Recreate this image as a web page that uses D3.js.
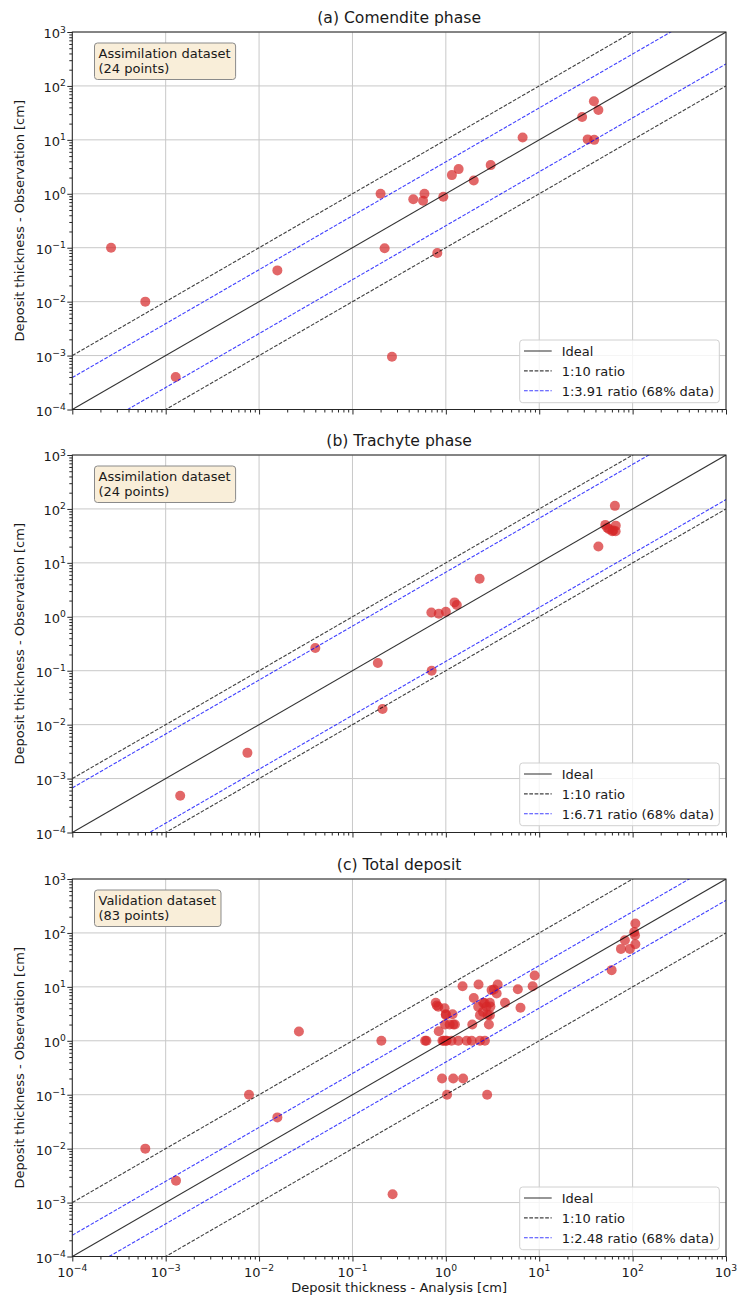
<!DOCTYPE html>
<html>
<head>
<meta charset="utf-8">
<script src="https://cdn.jsdelivr.net/npm/d3@7/dist/d3.min.js"></script>
<style>
  body { margin: 0; background: #fff; }
  svg text { font-family: "DejaVu Sans", sans-serif; fill: #1a1a1a; }
</style>
</head>
<body>
<div id="chart"></div>
<script>
// --- Data (analysis x, observation y, in cm) ---
const aX = [2.6e-4, 6.05e-4, 1.28e-3, 0.0157, 0.221, 0.81, 0.265, 38.5, 43, 28.8, 33, 38.8, 6.64, 3.02, 1.37, 1.16, 1.99, 0.2, 0.59, 0.448, 0.57, 0.94];
const aY = [0.1, 0.01, 4.0e-4, 0.038, 0.098, 0.08, 9.5e-4, 51.8, 35.7, 26.5, 10.2, 10, 11.1, 3.4, 2.87, 2.22, 1.77, 1.0, 1.0, 0.79, 0.74, 0.88];

const bX = [64.6, 51, 53.5, 66, 60.5, 65.8, 43, 2.3, 1.24, 1.31, 0.70, 0.84, 1.0, 0.04, 0.0075, 1.43e-3, 0.187, 0.705, 0.21, 56, 62];
const bY = [114, 50.6, 45, 49, 38.6, 38.6, 20.1, 5.06, 1.85, 1.65, 1.2, 1.14, 1.24, 0.263, 0.003, 4.8e-4, 0.139, 0.1, 0.0195, 42, 40];

const cX = [107, 104, 106, 82.6, 75, 93.5, 107, 59.6, 8.93, 8.5, 5.9, 6.3, 3.59, 3.27, 3.09, 3.5, 4.3, 2.24, 1.51, 1.99,
            2.51, 2.96, 2.22, 2.73, 2.32, 2.96, 2.5, 1.92, 2.89, 0.78, 0.83, 0.97, 1.0, 1.18, 0.98, 1.1, 1.25, 0.84, 0.204, 0.6,
            0.62, 0.92, 1.02, 1.15, 1.36, 1.67, 1.89, 2.32, 2.62, 0.91, 1.2, 1.53, 1.03, 2.77, 0.269, 7.8e-3, 0.0157, 6.05e-4, 1.29e-3, 0.0267,
            1.0, 0.95, 1.2, 2.8, 3.0, 2.6, 1.0, 0.8];
const cY = [149, 104, 90.6, 73, 50.6, 50.6, 61.6, 20.4, 16.3, 10.3, 9.06, 4.1, 11.1, 8.95, 8.7, 7.55, 5.06, 11.1, 10.3, 6.2,
            5.06, 5.06, 4.27, 4.27, 2.99, 2.99, 3.44, 2.01, 2.01, 5.06, 4.27, 4.0, 3.1, 3.1, 2.0, 2.0, 2.0, 1.5, 1.0, 1.0,
            1.0, 1.0, 1.0, 1.0, 1.0, 1.0, 1.0, 1.0, 1.0, 0.2, 0.2, 0.2, 0.1, 0.1, 1.43e-3, 0.1, 0.038, 0.01, 2.55e-3, 1.49,
            1.0, 1.0, 2.0, 3.0, 4.3, 5.0, 3.0, 4.5];

const titles = ["(a) Comendite phase", "(b) Trachyte phase", "(c) Total deposit"];
const boxTexts = [["Assimilation dataset", "(24 points)"], ["Assimilation dataset", "(24 points)"], ["Validation dataset", "(83 points)"]];
const ratios = [3.91, 6.71, 2.48];
const exponents = [-4, -3, -2, -1, 0, 1, 2, 3];

const panels = [
    { xs: aX, ys: aY },
    { xs: bX, ys: bY },
    { xs: cX, ys: cY }
];

// --- Layout ---
const W = 738, H = 1299;
const left = 72.3, right = 726, plotH = 377.5;
const tops = [32, 455, 879];

const svg = d3.select("#chart").append("svg").attr("width", W).attr("height", H);

const x = d3.scaleLog().domain([1e-4, 1e3]).range([left, right]);
const majors = exponents.map(e => Math.pow(10, e));
const minors = [];
exponents.slice(0, -1).forEach(e => { for (let k = 2; k <= 9; k++) minors.push(k * Math.pow(10, e)); });

function supLabel(sel, e) {
    sel.append("tspan").text("10");
    sel.append("tspan").attr("dy", -5.5).attr("font-size", 9.2).text(e < 0 ? "\u2212" + (-e) : e);
}

panels.forEach((p, i) => {
    const top = tops[i], bottom = top + plotH;
    const y = d3.scaleLog().domain([1e-4, 1e3]).range([bottom, top]);
    const g = svg.append("g");

    g.append("clipPath").attr("id", "clip" + i)
        .append("rect").attr("x", left).attr("y", top).attr("width", right - left).attr("height", plotH);

    // grid
    g.append("g").selectAll("line").data(majors).join("line")
        .attr("x1", d => x(d)).attr("x2", d => x(d)).attr("y1", top).attr("y2", bottom)
        .attr("stroke", "#c8c8c8").attr("stroke-width", 1);
    g.append("g").selectAll("line").data(majors).join("line")
        .attr("x1", left).attr("x2", right).attr("y1", d => y(d)).attr("y2", d => y(d))
        .attr("stroke", "#c8c8c8").attr("stroke-width", 1);

    const plot = g.append("g").attr("clip-path", `url(#clip${i})`);

    // points
    const pts = p.xs.map((v, k) => [v, p.ys[k]]);
    plot.selectAll("circle").data(pts).join("circle")
        .attr("cx", d => x(d[0])).attr("cy", d => y(d[1])).attr("r", 5)
        .attr("fill", "#d62728").attr("fill-opacity", 0.7);

    // reference lines
    const refLines = [
        { f: 1, color: "#000", dash: null, op: 0.8 },
        { f: 10, color: "#000", dash: "3.7,1.6", op: 0.75 },
        { f: 0.1, color: "#000", dash: "3.7,1.6", op: 0.75 },
        { f: ratios[i], color: "#0000ff", dash: "3.7,1.6", op: 0.75 },
        { f: 1 / ratios[i], color: "#0000ff", dash: "3.7,1.6", op: 0.75 }
    ];
    const line = f => d3.line().x(d => x(d)).y(d => y(d * f));
    refLines.forEach(r => {
        plot.append("path").datum(x.domain())
            .attr("d", line(r.f)).attr("fill", "none")
            .attr("stroke", r.color).attr("stroke-opacity", r.op).attr("stroke-width", 1.1)
            .attr("stroke-dasharray", r.dash);
    });

    // axes ticks
    const axB = g.append("g").attr("transform", `translate(0,${bottom})`)
        .call(d3.axisBottom(x).tickValues(majors).tickSize(5).tickFormat(""));
    const axBm = g.append("g").attr("transform", `translate(0,${bottom})`)
        .call(d3.axisBottom(x).tickValues(minors).tickSize(3).tickFormat(""));
    const axL = g.append("g").attr("transform", `translate(${left},0)`)
        .call(d3.axisLeft(y).tickValues(majors).tickSize(5).tickFormat(""));
    const axLm = g.append("g").attr("transform", `translate(${left},0)`)
        .call(d3.axisLeft(y).tickValues(minors).tickSize(3).tickFormat(""));
    [axB, axBm, axL, axLm].forEach(a => {
        a.select(".domain").remove();
        a.selectAll("line").attr("stroke", "#262626").attr("stroke-width", 1);
    });

    // y tick labels
    exponents.forEach(e => {
        const t = g.append("text").attr("x", left - 6.5).attr("y", y(Math.pow(10, e)) + 6)
            .attr("text-anchor", "end").attr("font-size", 13);
        supLabel(t, e);
    });
    // x tick labels only on the bottom panel
    if (i === 2) {
        exponents.forEach(e => {
            const t = g.append("text").attr("x", x(Math.pow(10, e))).attr("y", bottom + 20)
                .attr("text-anchor", "middle").attr("font-size", 13);
            supLabel(t, e);
        });
        g.append("text").attr("x", (left + right) / 2).attr("y", 1292)
            .attr("text-anchor", "middle").attr("font-size", 13)
            .text("Deposit thickness - Analysis [cm]");
    }

    // frame
    g.append("rect").attr("x", left).attr("y", top).attr("width", right - left).attr("height", plotH)
        .attr("fill", "none").attr("stroke", "#262626").attr("stroke-width", 1);

    // title and y label
    g.append("text").attr("x", (left + right) / 2).attr("y", top - 9)
        .attr("text-anchor", "middle").attr("font-size", 15.6).text(titles[i]);
    g.append("text").attr("transform", `translate(24,${(top + bottom) / 2}) rotate(-90)`)
        .attr("text-anchor", "middle").attr("font-size", 13)
        .text("Deposit thickness - Observation [cm]");

    // info box
    const box = g.append("g");
    const bRect = box.append("rect");
    const t1 = box.append("text").attr("x", 98.5).attr("y", top + 25.5).attr("font-size", 13).text(boxTexts[i][0]);
    box.append("text").attr("x", 98.5).attr("y", top + 41).attr("font-size", 13).text(boxTexts[i][1]);
    const bw = t1.node().getComputedTextLength() + 9;
    bRect.attr("x", 94.5).attr("y", top + 11).attr("width", bw).attr("height", 36.5).attr("rx", 3)
        .attr("fill", "#f9eed9").attr("stroke", "#8a8a8a").attr("stroke-width", 1);

    // legend
    const lg = g.append("g");
    lg.append("rect").attr("x", 519.7).attr("y", bottom - 69.5).attr("width", 199.6).attr("height", 62.7).attr("rx", 3)
        .attr("fill", "#fff").attr("fill-opacity", 0.8).attr("stroke", "#d0d0d0").attr("stroke-width", 1);
    const entries = [
        { label: "Ideal", color: "#000", dash: null },
        { label: "1:10 ratio", color: "#000", dash: "3.7,1.6" },
        { label: `1:${ratios[i].toFixed(2)} ratio (68% data)`, color: "#0000ff", dash: "3.7,1.6" }
    ];
    entries.forEach((en, k) => {
        const ly = bottom - 58.5 + k * 19.9;
        lg.append("line").attr("x1", 524).attr("x2", 551.7).attr("y1", ly).attr("y2", ly)
            .attr("stroke", en.color).attr("stroke-opacity", 0.75).attr("stroke-width", 1.1)
            .attr("stroke-dasharray", en.dash);
        lg.append("text").attr("x", 561.7).attr("y", ly + 4.7).attr("font-size", 13).text(en.label);
    });
});
</script>
</body>
</html>
